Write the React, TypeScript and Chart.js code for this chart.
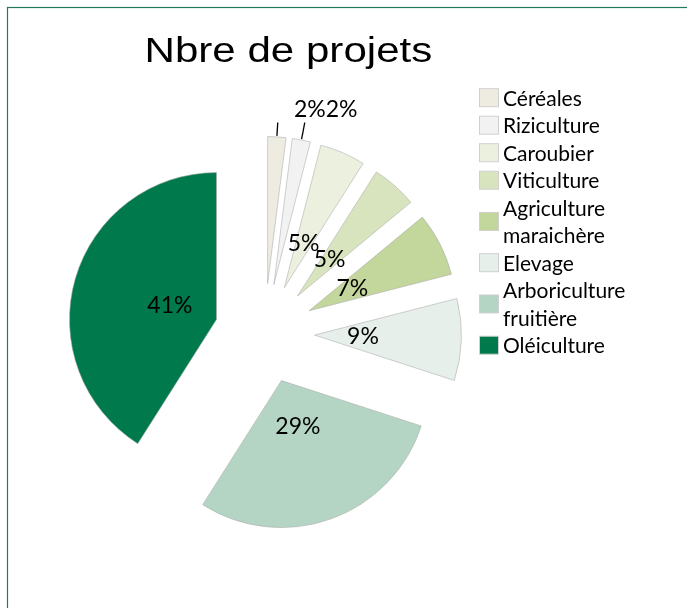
import React, { useEffect, useRef } from 'react';
import { Chart, registerables } from 'chart.js';

Chart.register(...registerables);

// ---- Data ----
const TITLE = 'Nbre de projets';
const categories = [
  'Céréales',
  'Riziculture',
  'Caroubier',
  'Viticulture',
  'Agriculture maraichère',
  'Elevage',
  'Arboriculture fruitière',
  'Oléiculture',
];
const values = [2, 2, 5, 5, 7, 9, 29, 41];
const colors = [
  '#EEECE1',
  '#F2F2F2',
  '#EBF1DE',
  '#D7E4BD',
  '#C3D69B',
  '#E6EFEA',
  '#B5D5C4',
  '#007A4C',
];

// ---- Styles ----
const EXPLODE = 50;
const RADIUS = 147;
const LABEL_FONT = '23px Lato';
const LEGEND_FONT = '21px Lato';
const TITLE_FONT = '34.5px "Liberation Sans"';

const explodePlugin = {
  id: 'explode',
  beforeDatasetDraw(chart: any, args: any) {
    const ctx = chart.ctx;
    args.meta.data.forEach((arc: any) => {
      const mid = (arc.startAngle + arc.endAngle) / 2;
      ctx.save();
      ctx.translate(Math.cos(mid) * EXPLODE, Math.sin(mid) * EXPLODE);
      arc.draw(ctx);
      ctx.restore();
    });
    return false;
  },
};

const labelPlugin = {
  id: 'sliceLabels',
  afterDatasetsDraw(chart: any) {
    const ctx = chart.ctx;
    const meta = chart.getDatasetMeta(0);
    const total = values.reduce((a, b) => a + b, 0);
    ctx.save();
    ctx.font = LABEL_FONT;
    ctx.fillStyle = '#000';
    ctx.textAlign = 'center';
    ctx.textBaseline = 'middle';
    let lastRight = -Infinity;
    meta.data.forEach((arc: any, i: number) => {
      const mid = (arc.startAngle + arc.endAngle) / 2;
      const dx = Math.cos(mid);
      const dy = Math.sin(mid);
      const ax = arc.x + dx * EXPLODE;
      const ay = arc.y + dy * EXPLODE;
      const r = arc.outerRadius;
      const frac = values[i] / total;
      const text = Math.round(frac * 100) + '%';
      if (frac < 0.03) {
        const ox = ax + dx * (r + 1);
        const oy = ay + dy * (r + 1);
        const endY = arc.y - EXPLODE - r - 14;
        const L = (oy - endY) / -dy;
        const ex = ox + dx * L;
        const ey = endY;
        ctx.strokeStyle = '#000';
        ctx.lineWidth = 1.3;
        ctx.beginPath();
        ctx.moveTo(ox, oy);
        ctx.lineTo(ex, ey);
        ctx.stroke();
        const w = ctx.measureText(text).width;
        let tx = ex + 32;
        if (tx - w / 2 < lastRight) tx = lastRight + w / 2;
        lastRight = tx + w / 2;
        ctx.fillText(text, tx, ey - 13);
      } else {
        ctx.fillText(text, ax + dx * r * 0.33, ay + dy * r * 0.33);
      }
    });
    ctx.restore();
  },
};

function wrap(ctx: CanvasRenderingContext2D, text: string, maxW: number): string[] {
  const words = text.split(' ');
  const lines: string[] = [];
  let cur = '';
  words.forEach((w) => {
    const test = cur ? cur + ' ' + w : w;
    if (cur && ctx.measureText(test).width > maxW) {
      lines.push(cur);
      cur = w;
    } else {
      cur = test;
    }
  });
  if (cur) lines.push(cur);
  return lines;
}

const decorPlugin = {
  id: 'decor',
  afterDraw(chart: any) {
    const ctx = chart.ctx;
    ctx.save();
    // frame
    ctx.strokeStyle = '#23795A';
    ctx.lineWidth = 1.2;
    ctx.strokeRect(7.5, 7.5, 1000, 1000);
    // title
    ctx.font = TITLE_FONT;
    ctx.fillStyle = '#000';
    ctx.textAlign = 'center';
    ctx.textBaseline = 'alphabetic';
    ctx.save();
    ctx.translate(288.4, 62.3);
    ctx.scale(1.22, 1);
    ctx.fillText(TITLE, 0, 0);
    ctx.restore();
    // legend
    ctx.font = LEGEND_FONT;
    ctx.textAlign = 'left';
    const step = 27.5;
    let baseline = 105.7;
    categories.forEach((c, i) => {
      const lines = wrap(ctx, c, 160);
      const cy = baseline - 8 + ((lines.length - 1) * step) / 2;
      ctx.fillStyle = colors[i];
      ctx.fillRect(479.5, cy - 9, 19, 18);
      ctx.strokeStyle = '#D0D0D0';
      ctx.lineWidth = 1;
      ctx.strokeRect(479.5, cy - 9, 19, 18);
      ctx.fillStyle = '#000';
      lines.forEach((ln, k) => ctx.fillText(ln, 503, baseline + k * step));
      baseline += lines.length * step;
    });
    ctx.restore();
  },
};

export default function App() {
  const ref = useRef<HTMLCanvasElement>(null);
  useEffect(() => {
    if (!ref.current) return;
    const chart = new Chart(ref.current, {
      type: 'pie',
      data: {
        labels: categories,
        datasets: [
          {
            data: values,
            backgroundColor: colors,
            borderColor: 'rgba(170,170,170,0.7)',
            borderWidth: 0.8,
            radius: RADIUS,
          } as any,
        ],
      },
      options: {
        responsive: false,
        animation: false,
        layout: { padding: { left: 0, right: 158, top: 59, bottom: 0 } },
        plugins: {
          legend: { display: false },
          title: { display: false },
          tooltip: { enabled: false },
        },
        events: [],
      } as any,
      plugins: [explodePlugin, labelPlugin, decorPlugin],
    });
    return () => chart.destroy();
  }, []);
  return (
    <div style={{ position: 'fixed', left: 0, top: 0, width: 687, height: 608, background: '#fff' }}>
      <canvas ref={ref} width={687} height={608} style={{ display: 'block', width: 687, height: 608 }} />
    </div>
  );
}
